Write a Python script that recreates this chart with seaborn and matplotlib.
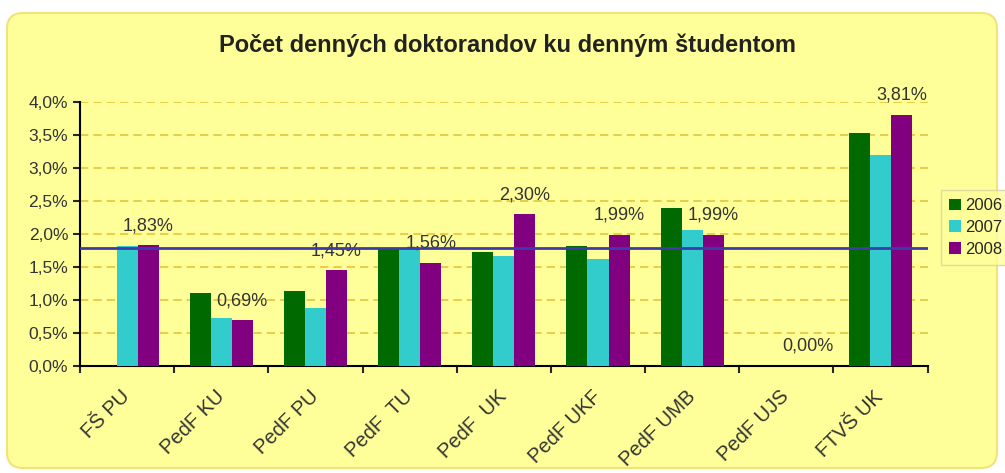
import pandas as pd
import seaborn as sns
import matplotlib.pyplot as plt
from matplotlib.patches import FancyBboxPatch
from matplotlib.ticker import FuncFormatter, MultipleLocator, FixedLocator

# Data (share of full-time PhD students, in %)
faculties = ["FŠ PU", "PedF KU", "PedF PU", "PedF  TU", "PedF  UK",
             "PedF UKF", "PedF UMB", "PedF UJS", "FTVŠ UK"]
years = ["2006", "2007", "2008"]
share_2006 = [0.00, 1.10, 1.13, 1.78, 1.72, 1.82, 2.40, 0.00, 3.53]
share_2007 = [1.82, 0.73, 0.88, 1.78, 1.66, 1.62, 2.06, 0.00, 3.20]
share_2008 = [1.83, 0.69, 1.45, 1.56, 2.30, 1.99, 1.99, 0.00, 3.81]
average_share = 1.79

year_colors = {"2006": "#006A00", "2007": "#33CCCC", "2008": "#800080"}

# long form table for seaborn
df = pd.DataFrame({
    "faculty": faculties * 3,
    "year": [y for y in years for _ in faculties],
    "share": share_2006 + share_2007 + share_2008,
})

sns.set_style("ticks")
plt.rcParams["font.family"] = ["Liberation Sans", "DejaVu Sans"]

fig = plt.figure(figsize=(10.05, 4.73), dpi=100, facecolor="white")

# yellow rounded panel behind everything
panel = FancyBboxPatch((7, 5), 990, 455, boxstyle="round,pad=0,rounding_size=16",
                       transform=None, facecolor="#FFFF99", edgecolor="#F2E27A",
                       linewidth=1.5, zorder=-1)
fig.add_artist(panel)

ax = fig.add_axes([0.0796, 0.2262, 0.8434, 0.5582])
ax.patch.set_visible(False)

sns.barplot(data=df, x="faculty", y="share", hue="year", palette=year_colors,
            width=0.67, saturation=1, linewidth=0, ax=ax, zorder=3)

# average line
ax.axhline(average_share, color="#3C3CA8", linewidth=2, zorder=5)

# value labels for 2008 only
labels_2008 = [f"{v:.2f}".replace(".", ",") + "%" for v in share_2008]
ax.bar_label(ax.containers[2], labels=labels_2008, padding=8, fontsize=13,
             color="#333333")

# axes styling
ax.set_ylim(0, 4.0)
ax.set_xlim(-0.5, len(faculties) - 0.5)
ax.yaxis.set_major_locator(MultipleLocator(0.5))
ax.yaxis.set_major_formatter(FuncFormatter(lambda v, p: f"{v:.1f}".replace(".", ",") + "%"))
ax.yaxis.grid(True, linestyle=(0, (5, 3)), color="#E6C43A", linewidth=1.2)
ax.set_axisbelow(True)

for side in ["top", "right"]:
    ax.spines[side].set_visible(False)
for side in ["left", "bottom"]:
    ax.spines[side].set_color("black")
    ax.spines[side].set_linewidth(1.5)

ax.tick_params(axis="y", length=5, width=1.5, labelsize=12.5, labelcolor="#333333")
ax.xaxis.set_minor_locator(FixedLocator([i - 0.5 for i in range(len(faculties) + 1)]))
ax.tick_params(axis="x", which="major", length=0, pad=20)
ax.tick_params(axis="x", which="minor", length=5, width=1.5, direction="out")
plt.setp(ax.get_xticklabels(), rotation=45, ha="right", va="center",
         rotation_mode="anchor", fontsize=14.5, color="#333333")

ax.set_xlabel("")
ax.set_ylabel("")

# legend sits at the right edge, frame partly outside the figure
handles, labels = ax.get_legend_handles_labels()
ax.legend(handles, labels, loc="upper left", bbox_to_anchor=(0.936, 0.598),
          bbox_transform=fig.transFigure, frameon=True, fancybox=False,
          facecolor="#FFFF99", edgecolor="#D8D0A0", fontsize=12,
          handlelength=0.7, handleheight=0.7, handletextpad=0.25,
          labelspacing=0.4, borderpad=0.5, borderaxespad=0)

fig.text(0.505, 0.905, "Počet denných doktorandov ku denným študentom",
         ha="center", va="center", fontsize=17, fontweight="bold", color="#222222")

plt.savefig("out.png", dpi=100, facecolor=fig.get_facecolor())
plt.close()
